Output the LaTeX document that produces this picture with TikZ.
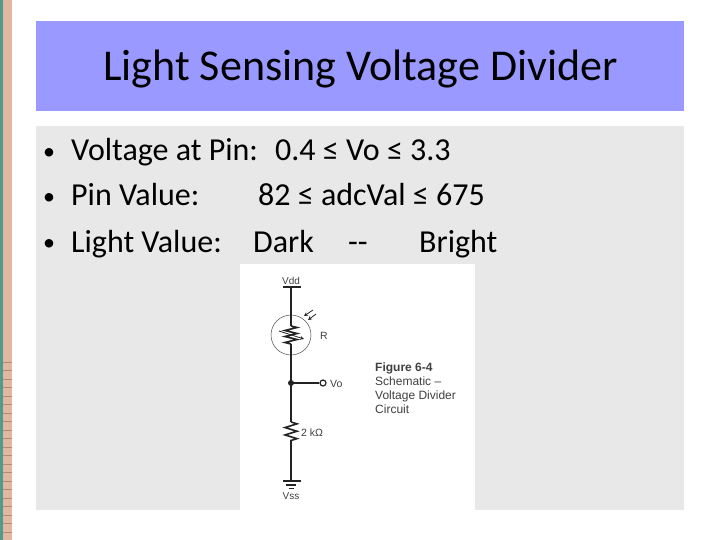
\documentclass[tikz,border=0pt]{standalone}
\usepackage{fontspec}
\setmainfont{Carlito}
\newfontfamily\figfont{Liberation Sans}
\usetikzlibrary{decorations.pathmorphing,arrows.meta}
\definecolor{cus-blue}{RGB}{153,153,255}
\definecolor{cus-grey}{RGB}{232,232,232}
\definecolor{cus-salmon}{RGB}{226,183,160}
\definecolor{cus-teal}{RGB}{80,155,140}
\definecolor{cus-tick}{RGB}{180,135,118}
\definecolor{cus-wire}{RGB}{35,35,35}
\tikzset{
	bodytext/.style={anchor=base west,inner sep=0pt,font=\fontsize{32}{32}\selectfont},
	bullettext/.style={anchor=base,inner sep=0pt,font=\fontsize{24}{24}\selectfont},
	figtext/.style={anchor=base west,inner sep=0pt,text=black!75,font=\figfont\fontsize{12}{12}\selectfont},
	pinlabel/.style={anchor=base west,inner sep=0pt,text=black!75,font=\figfont\fontsize{10.5}{10.5}\selectfont},
	railtext/.style={inner sep=0pt,text=black!75,font=\figfont\fontsize{10}{10}\selectfont},
	wire/.style={draw=cus-wire,line width=1.6pt},
	thinwire/.style={draw=cus-wire,line width=.8pt},
	zigzag1/.style={draw=cus-wire,line width=1.6pt,decorate,decoration={zigzag,amplitude=6pt,segment length=6pt}},
	zigzag2/.style={draw=cus-wire,line width=1.6pt,decorate,decoration={zigzag,amplitude=6pt,segment length=7.4pt}},
}
\begin{document}
\begin{tikzpicture}[x=1pt,y=-1pt]
\useasboundingbox (0,0) rectangle (720,540);
% left stripe
\fill [cus-salmon] (2,0) rectangle (12,540);
\fill [cus-teal] (0,0) rectangle (2.5,540);
\foreach \y in {362,370.5,...,538}{
	\draw [cus-tick,line width=.8pt] (2.5,\y) -- (12,\y);
}
% panels
\fill [cus-blue] (36,21) rectangle (684,111);
\fill [cus-grey] (36,126) rectangle (684,510);
\fill [white] (240,264) rectangle (475,510);
\node (title) at (360.5,69) [inner sep=0pt,font=\fontsize{44}{44}\selectfont] {Light Sensing Voltage Divider};
% bullets
\foreach \y/\name in {160/a,205/b,251/c}{
	\node (bullet\name) at (49,\y) [bullettext] {•};
}
\node (voltage) at (71,161) [bodytext] {Voltage at Pin:};
\node (voltrange) at (275,161) [bodytext] {0.4 ≤ Vo ≤ 3.3};
\node (pinval) at (71,206) [bodytext] {Pin Value:};
\node (pinrange) at (258,206) [bodytext] {82 ≤ adcVal ≤ 675};
\node (lightval) at (71,252) [bodytext] {Light Value:};
\node (dark) at (253,252) [bodytext] {Dark};
\node (dash) at (348,252) [bodytext] {-{}-};
\node (bright) at (419,252) [bodytext] {Bright};
% schematic
\coordinate (vddbar) at (291,287);
\coordinate (rtop) at (291,326);
\coordinate (rbot) at (291,344);
\coordinate (junction) at (291,383);
\coordinate (ktop) at (291,422);
\coordinate (kbot) at (291,444);
\coordinate (gnd) at (291,481);
\node (sensor) at (291,335) [circle,draw=black!70,line width=.5pt,minimum size=40pt,inner sep=0pt] {};
\node (vopin) at (323,383) [circle,draw=cus-wire,line width=1.2pt,fill=white,minimum size=6pt,inner sep=0pt] {};
\draw [wire] (283,287) -- (301,287);
\draw [wire] (vddbar) -- (rtop);
\draw [zigzag1] (rtop) -- (rbot);
\draw [wire] (rbot) -- (junction) -- (ktop);
\draw [zigzag2] (ktop) -- (kbot);
\draw [wire] (kbot) -- (gnd);
\draw [wire] (junction) -- (vopin);
\fill [cus-wire] (junction) circle (3pt);
\draw [wire] (283,481) -- (301,481);
\draw [wire] (286,485) -- (296,485);
\draw [wire] (288.5,488.5) -- (293.5,488.5);
% light arrows
\draw [thinwire,-{Stealth[length=4pt,width=4pt]}] (313,310) -- (304,316);
\draw [thinwire,-{Stealth[length=4pt,width=4pt]}] (316,314) -- (308,320);
\draw [thinwire,-{Stealth[length=4pt,width=4pt]}] (279,331) -- (304,339);
\node (vdd) at (291,281) [railtext] {Vdd};
\node (vss) at (291,496) [railtext] {Vss};
\node (rlabel) at (320,339) [pinlabel] {R};
\node (volabel) at (330,387) [pinlabel] {Vo};
\node (klabel) at (301,436) [pinlabel] {2 kΩ};
\node (fighead) at (375,371) [figtext,font=\figfont\bfseries\fontsize{12}{12}\selectfont] {Figure 6-4};
\node (figa) at (375,385) [figtext] {Schematic –};
\node (figb) at (375,399) [figtext] {Voltage Divider};
\node (figc) at (375,413) [figtext] {Circuit};
\end{tikzpicture}
\end{document}
